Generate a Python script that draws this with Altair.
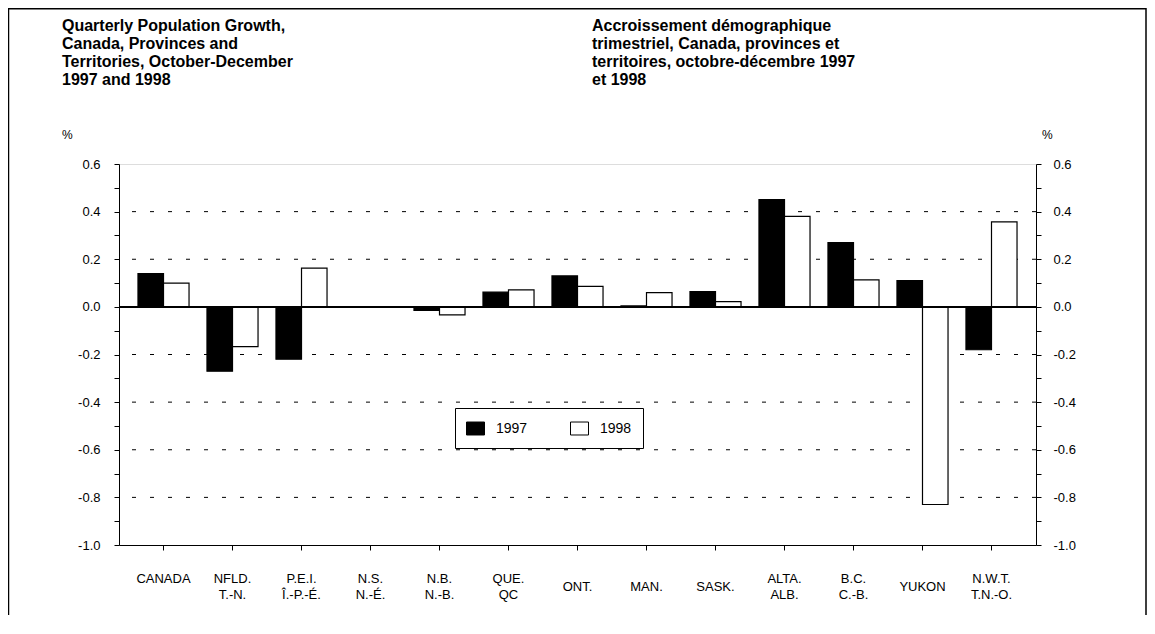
import altair as alt
import pandas as pd

categories = ["CANADA", "NFLD.\nT.-N.", "P.E.I.\nÎ.-P.-É.", "N.S.\nN.-É.", "N.B.\nN.-B.",
              "QUE.\nQC", "ONT.", "MAN.", "SASK.", "ALTA.\nALB.", "B.C.\nC.-B.",
              "YUKON", "N.W.T.\nT.N.-O."]
growth_1997 = [0.14, -0.27, -0.22, 0.0, -0.015, 0.062, 0.13, 0.004, 0.064, 0.45, 0.27, 0.11, -0.18]
growth_1998 = [0.10, -0.167, 0.163, 0.0, -0.034, 0.071, 0.086, 0.06, 0.022, 0.38, 0.113, -0.83, 0.357]
years = ["1997", "1998"]
y_ticks = [-1.0, -0.9, -0.8, -0.7, -0.6, -0.5, -0.4, -0.3, -0.2, -0.1,
           0.0, 0.1, 0.2, 0.3, 0.4, 0.5, 0.6]
grid_values = [-0.8, -0.6, -0.4, -0.2, 0.2, 0.4]
zero_value = [0.0]
title_en = ["Quarterly Population Growth,", "Canada, Provinces and",
            "Territories, October-December", "1997 and 1998"]
title_fr = ["Accroissement démographique", "trimestriel, Canada, provinces et",
            "territoires, octobre-décembre 1997", "et 1998"]
unit_label = "%"

FONT = "Liberation Sans"
W, H = 917, 381

rows = []
for c, a, b in zip(categories, growth_1997, growth_1998):
    rows.append({"cat": c, "year": years[0], "value": a})
    rows.append({"cat": c, "year": years[1], "value": b})
bars_df = pd.DataFrame(rows)

y_scale = alt.Scale(domain=[-1.0, 0.6], nice=False, zero=False)
label_expr = ("abs(round(datum.value*10)) % 2 == 0 ? "
              "((datum.value < -0.001 ? '-' : '') + format(abs(datum.value), '.1f')) : ''")

left_axis = alt.Axis(orient="left", values=y_ticks, labelExpr=label_expr, title=None,
                     grid=False, tickSize=5, tickColor="black", domainColor="black",
                     labelFontSize=13, labelColor="black", labelPadding=14,
                     labelFont=FONT)
right_axis = alt.Axis(orient="right", values=y_ticks, labelExpr=label_expr, title=None,
                      grid=False, tickSize=5, tickColor="black", domainColor="black",
                      labelFontSize=13, labelColor="black", labelPadding=12,
                      labelFont=FONT)

x_axis = alt.Axis(title=None, labelAngle=0, labelExpr="split(datum.label, '\\n')",
                  labelBaseline="middle", labelLineHeight=16, labelFontSize=13,
                  labelColor="black", labelFont=FONT, labelOverlap=False,
                  labelLimit=200, tickSize=5, tickColor="black", domainColor="black",
                  labelPadding={"condition": {
                      "test": "indexof(datum.value, '\\n') >= 0 || datum.value == 'CANADA'",
                      "value": 28},
                      "value": 36})

frame = alt.Chart(pd.DataFrame({"t": [unit_label]})).mark_rect(
    fillOpacity=0, stroke="black", strokeWidth=1.5
).encode(x=alt.value(-110.5), x2=alt.value(W + 110), y=alt.value(-155.2), y2=alt.value(H + 120))

grid = alt.Chart(pd.DataFrame({"v": grid_values})).mark_rule(
    color="black", strokeWidth=1, strokeDash=[4, 14]
).encode(y=alt.Y("v:Q", scale=y_scale, axis=right_axis))

bars = alt.Chart(bars_df).mark_bar(stroke="black", strokeWidth=1.2).encode(
    x=alt.X("cat:N", sort=categories,
            scale=alt.Scale(paddingInner=0.26, paddingOuter=0.275), axis=x_axis),
    xOffset=alt.XOffset("year:N", sort=years, scale=alt.Scale(paddingInner=0, paddingOuter=0)),
    y=alt.Y("value:Q", scale=y_scale, axis=left_axis),
    fill=alt.Fill("year:N", sort=years,
                  scale=alt.Scale(domain=years, range=["black", "white"]),
                  legend=alt.Legend(orient="none", legendX=336, legendY=244,
                                    direction="horizontal", title=None,
                                    strokeColor="black", fillColor="white",
                                    padding=11, labelFontSize=14, labelFont=FONT,
                                    labelColor="black", labelOffset=11,
                                    columnPadding=40,
                                    symbolType="M-1,-0.72L1,-0.72L1,0.72L-1,0.72Z",
                                    symbolSize=324, symbolStrokeColor="black",
                                    symbolStrokeWidth=1)),
)

zero = alt.Chart(pd.DataFrame({"v": zero_value})).mark_rule(
    color="black", strokeWidth=2
).encode(y=alt.Y("v:Q", scale=y_scale, axis=None))

title_left = alt.Chart(pd.DataFrame({"t": ["\n".join(title_en)]})).mark_text(
    align="left", baseline="alphabetic", fontSize=16, fontWeight="bold", font=FONT,
    lineBreak="\n", lineHeight=18, color="black"
).encode(text="t:N", x=alt.value(-57), y=alt.value(-133))

title_right = alt.Chart(pd.DataFrame({"t": ["\n".join(title_fr)]})).mark_text(
    align="left", baseline="alphabetic", fontSize=16, fontWeight="bold", font=FONT,
    lineBreak="\n", lineHeight=18, color="black"
).encode(text="t:N", x=alt.value(473), y=alt.value(-133))

pct_left = alt.Chart(pd.DataFrame({"t": [unit_label]})).mark_text(
    align="left", baseline="middle", fontSize=12, font=FONT, color="black"
).encode(text="t:N", x=alt.value(-57), y=alt.value(-29))

pct_right = alt.Chart(pd.DataFrame({"t": [unit_label]})).mark_text(
    align="left", baseline="middle", fontSize=12, font=FONT, color="black"
).encode(text="t:N", x=alt.value(923), y=alt.value(-29))

chart = alt.layer(
    frame, grid, bars, zero, title_left, title_right, pct_left, pct_right
).resolve_axis(y="independent").resolve_scale(y="shared").properties(
    width=W, height=H,
    autosize=alt.AutoSizeParams(type="none"),
    padding={"left": 111, "top": 156, "right": 111, "bottom": 70},
    background="white",
).configure_view(stroke="black", strokeWidth=1).configure(font=FONT)

chart.save("out.html", embed_options={"renderer": "svg", "actions": False})
